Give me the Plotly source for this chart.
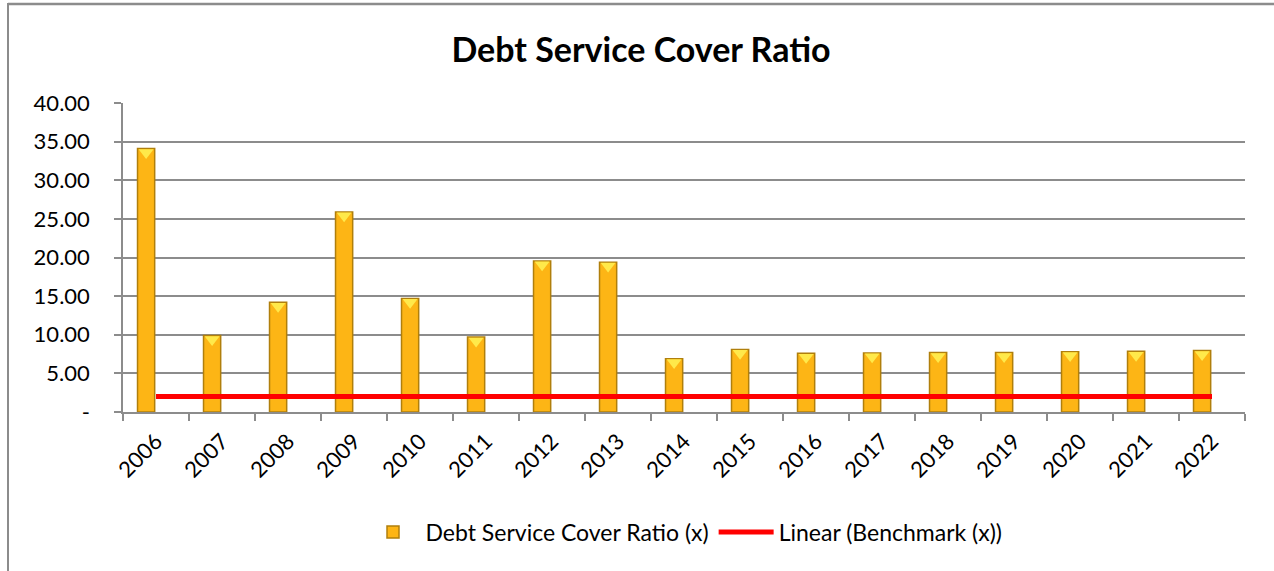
import plotly.graph_objects as go

years = ["2006", "2007", "2008", "2009", "2010", "2011", "2012", "2013", "2014",
         "2015", "2016", "2017", "2018", "2019", "2020", "2021", "2022"]
dscr = [34.1, 9.9, 14.2, 25.9, 14.7, 9.7, 19.55, 19.4, 6.9,
        8.1, 7.6, 7.65, 7.7, 7.7, 7.8, 7.85, 7.95]
benchmark = [2.0] * len(years)

y_ticks = [0, 5, 10, 15, 20, 25, 30, 35, 40]
y_ticktext = ["-" if v == 0 else f"{v:.2f}" for v in y_ticks]

W, H = 1274, 571
ML, MR, MT, MB = 123, 29, 103, 159
PW, PH = W - ML - MR, H - MT - MB

idx = list(range(len(years)))
BAR_OFFSET = -0.28
BAR_WIDTH = 0.26

FONT = "Lato"


def px_x(p):
    return (p - ML) / PW


def px_y(p):
    return (H - MB - p) / PH


fig = go.Figure()

fig.add_trace(go.Bar(
    x=idx, y=dscr, name="Debt Service Cover Ratio (x)",
    offset=BAR_OFFSET, width=BAR_WIDTH,
    marker=dict(color="#FDB515", line=dict(color="#B07F0C", width=1.5)),
))

# bevelled cap on each bar
fig.add_trace(go.Scatter(
    x=[i + BAR_OFFSET + BAR_WIDTH / 2 for i in idx],
    y=[v - 0.5 for v in dscr],
    mode="markers", showlegend=False, hoverinfo="skip",
    marker=dict(symbol="triangle-down", size=13, color="#FFE94A",
                line=dict(width=0)),
))

fig.add_trace(go.Scatter(
    x=idx, y=benchmark, name="Linear (Benchmark (x))",
    mode="lines", line=dict(color="#FF0000", width=5),
))

shapes = [
    dict(type="line", xref="paper", yref="paper",
         x0=px_x(8), x1=px_x(8), y0=px_y(3), y1=px_y(H + 5),
         line=dict(color="#8C8C8C", width=2)),
    dict(type="line", xref="paper", yref="paper",
         x0=px_x(8), x1=px_x(W + 5), y0=px_y(4), y1=px_y(4),
         line=dict(color="#8C8C8C", width=2.5)),
]

fig.update_layout(
    width=W, height=H,
    margin=dict(l=ML, r=MR, t=MT, b=MB),
    paper_bgcolor="white", plot_bgcolor="white",
    title=dict(text="<b>Debt Service Cover Ratio</b>", x=(W / 2 + 4) / W, xanchor="center",
               y=1 - 50 / H, yanchor="middle",
               font=dict(family=FONT, size=34, color="black")),
    font=dict(family=FONT, size=22, color="black"),
    showlegend=True,
    legend=dict(orientation="h", x=0.5, xanchor="center", y=px_y(532), yanchor="middle",
                font=dict(family=FONT, size=23, color="black"),
                itemwidth=55, tracegroupgap=0, bgcolor="rgba(0,0,0,0)"),
    shapes=shapes,
    xaxis=dict(
        range=[-0.5, len(years) - 0.5],
        tickmode="array", tickvals=idx, ticktext=years, tickangle=-45,
        ticks="", showgrid=False, ticklabelstandoff=6,
        showline=True, linecolor="#8C8C8C", linewidth=1.5,
        minor=dict(tickmode="array", tickvals=[i - 0.5 for i in range(len(years) + 1)],
                   ticks="outside", ticklen=7, tickcolor="#8C8C8C", tickwidth=1.5,
                   showgrid=False),
        tickfont=dict(family=FONT, size=22),
        zeroline=False,
    ),
    yaxis=dict(
        range=[0, 40], tickmode="array", tickvals=y_ticks, ticktext=y_ticktext,
        showgrid=True, gridcolor="#8C8C8C", gridwidth=1.5,
        showline=True, linecolor="#8C8C8C", linewidth=1.5,
        ticks="outside", ticklen=7, tickcolor="#8C8C8C", tickwidth=1.5,
        ticklabelstandoff=20,
        tickfont=dict(family=FONT, size=22), zeroline=False,
    ),
)

fig.write_html("out.html")
